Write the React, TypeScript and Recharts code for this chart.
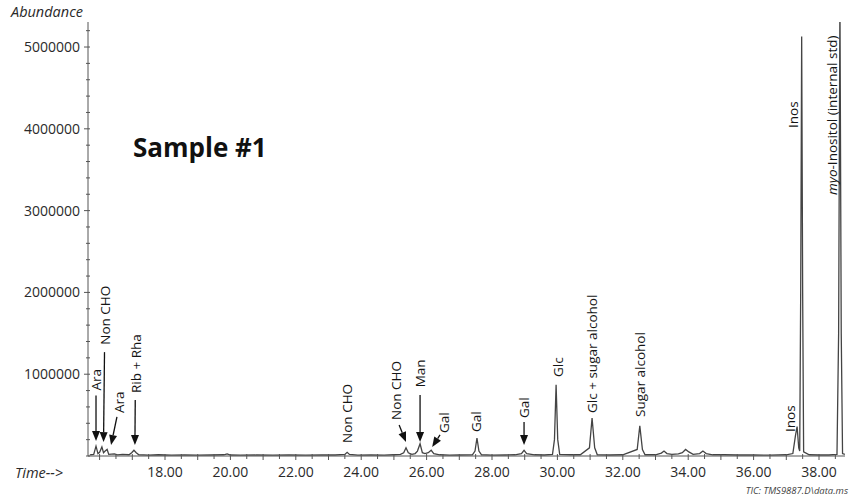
import React from 'react';
import { LineChart, Line, XAxis, YAxis, ReferenceLine, ReferenceDot } from 'recharts';

const FONT = '"Open Sans", "DejaVu Sans", sans-serif';
const INK = '#151515';
const AXIS = '#555';

// retention time, min
const times = [
  15.7, 15.82, 15.89, 15.95, 16.0, 16.07, 16.12, 16.17, 16.23, 16.28, 16.45, 16.55, 16.7, 16.9, 16.98,
  17.05, 17.12, 17.2, 17.5, 17.8, 18.2, 18.6, 19.0, 19.4, 19.8, 19.9, 20.0, 20.3, 20.8, 21.3, 21.8,
  22.3, 22.8, 23.2, 23.5, 23.57, 23.64, 23.9, 24.3, 24.7, 25.0, 25.2, 25.3, 25.37, 25.44, 25.55,
  25.65, 25.72, 25.8, 25.87, 25.95, 26.05, 26.14, 26.22, 26.4, 26.7, 27.0, 27.4, 27.48, 27.54, 27.6,
  27.68, 28.0, 28.4, 28.7, 28.9, 28.98, 29.06, 29.3, 29.6, 29.85, 29.91, 29.96, 30.01, 30.07, 30.4,
  30.7, 30.98, 31.06, 31.14, 31.22, 31.6, 32.0, 32.44, 32.52, 32.6, 32.68, 33.0, 33.18, 33.26, 33.35,
  33.5, 33.7, 33.82, 33.92, 34.02, 34.15, 34.35, 34.45, 34.55, 34.75, 35.1, 35.5, 36.0, 36.5, 37.0,
  37.2, 37.28, 37.33, 37.38, 37.41, 37.44, 37.47, 37.5, 37.53, 37.7, 38.0, 38.3, 38.55, 38.6, 38.64,
  38.68, 38.72, 38.79,
];

// abundance, thousands of counts
const abundanceK = [
  15, 20, 120, 30, 45, 110, 40, 60, 80, 20, 25, 15, 20, 15, 40,
  70, 40, 15, 10, 15, 10, 12, 10, 12, 15, 25, 12, 10, 12, 10, 12,
  10, 12, 12, 20, 45, 20, 10, 12, 10, 15, 20, 40, 100, 40, 20,
  30, 60, 150, 40, 30, 40, 70, 30, 15, 10, 12, 15, 60, 220, 60,
  15, 10, 12, 15, 30, 70, 30, 15, 12, 20, 200, 870, 200, 20, 15,
  15, 100, 465, 100, 15, 12, 15, 80, 370, 80, 15, 15, 35, 60, 30,
  20, 25, 40, 80, 50, 20, 30, 60, 30, 15, 15, 12, 12, 10, 15,
  30, 250, 360, 100, 60, 2000, 5130, 2000, 50, 15, 12, 12, 20, 1500, 5600,
  1500, 30, 20,
];

const chromData = times.map((t, i) => ({ t, a: abundanceK[i] * 1000 }));

const xTicks = [
  16, 16.5, 17, 17.5, 18, 18.5, 19, 19.5, 20, 20.5, 21, 21.5, 22, 22.5, 23, 23.5, 24, 24.5, 25, 25.5,
  26, 26.5, 27, 27.5, 28, 28.5, 29, 29.5, 30, 30.5, 31, 31.5, 32, 32.5, 33, 33.5, 34, 34.5, 35, 35.5,
  36, 36.5, 37, 37.5, 38, 38.5,
];
const xLabelTicks = [18, 20, 22, 24, 26, 28, 30, 32, 34, 36, 38];

const yTicks = [
  0, 200000, 400000, 600000, 800000, 1000000, 1200000, 1400000, 1600000, 1800000, 2000000,
  2200000, 2400000, 2600000, 2800000, 3000000, 3200000, 3400000, 3600000, 3800000, 4000000,
  4200000, 4400000, 4600000, 4800000, 5000000, 5200000,
];
const yLabelTicks = [1000000, 2000000, 3000000, 4000000, 5000000];

// peak labels: name, time of label, abundance at foot of label
const peakNames = [
  'Ara', 'Non CHO', 'Ara', 'Rib + Rha', 'Non CHO', 'Non CHO', 'Man', 'Gal', 'Gal', 'Gal', 'Glc',
  'Glc + sugar alcohol', 'Sugar alcohol', 'Inos', 'Inos', 'myo',
];
const labelTimes = [15.89, 16.16, 16.59, 17.11, 23.57, 25.06, 25.8, 26.53, 27.51, 28.98, 30.02, 31.06, 32.53, 37.1, 37.22, 38.41];
const labelFeet = [800000, 1360000, 526000, 770000, 160000, 440000, 840000, 281000, 293000, 465000, 966000, 526000, 477000, 293000, 4010000, 3190000];

// arrows: tail and tip
const arrowTailT = [15.89, 16.15, 16.53, 17.09, 25.16, 25.8, 26.41, 28.98];
const arrowTailA = [740000, 1270000, 477000, 685000, 379000, 746000, 257000, 416000];
const arrowTipT = [15.89, 16.12, 16.35, 17.08, 25.37, 25.8, 26.17, 28.98];
const arrowTipA = [183000, 170000, 134000, 134000, 171000, 171000, 110000, 134000];

const PeakLabel = ({ cx, cy, name }: any) => (
  <text
    x={cx}
    y={cy}
    transform={`rotate(-90 ${cx} ${cy})`}
    dominantBaseline="central"
    textAnchor="start"
    fontFamily={FONT}
    fontSize={13.5}
    fontWeight={500}
    fill={INK}
  >
    {name === 'myo' ? (
      <>
        <tspan fontStyle="italic">myo</tspan>-Inositol (internal std)
      </>
    ) : (
      name
    )}
  </text>
);

const Arrow = ({ x1, y1, x2, y2 }: any) => {
  const dx = x2 - x1;
  const dy = y2 - y1;
  const len = Math.sqrt(dx * dx + dy * dy) || 1;
  const ux = dx / len;
  const uy = dy / len;
  const hl = 10;
  const hw = 4;
  const bx = x2 - ux * hl;
  const by = y2 - uy * hl;
  return (
    <g>
      <line x1={x1} y1={y1} x2={bx} y2={by} stroke="#111" strokeWidth={1.3} />
      <polygon
        points={`${x2},${y2} ${bx - uy * hw},${by + ux * hw} ${bx + uy * hw},${by - ux * hw}`}
        fill="#111"
      />
    </g>
  );
};

const YTick = ({ x, y, payload }: any) => {
  const major = yLabelTicks.includes(payload.value);
  return (
    <g>
      <line x1={x - (major ? 4 : 2)} x2={x + 2} y1={y} y2={y} stroke={AXIS} />
      {major && (
        <text x={x - 8} y={y} dy="0.35em" textAnchor="end" fontFamily={FONT} fontSize={14} fill="#2a2a2a">
          {payload.value}
        </text>
      )}
    </g>
  );
};

const XTick = ({ x, y, payload }: any) => {
  const major = xLabelTicks.includes(payload.value);
  const whole = Number.isInteger(payload.value);
  return (
    <g>
      <line x1={x} x2={x} y1={y - 2} y2={y + (whole ? 4 : 3)} stroke={AXIS} />
      {major && (
        <text x={x} y={y + 21} textAnchor="middle" fontFamily={FONT} fontSize={14} fill="#2a2a2a">
          {payload.value.toFixed(2)}
        </text>
      )}
    </g>
  );
};

const App: React.FC = () => {
  return (
    <div style={{ position: 'absolute', left: 0, top: 0, width: 849, height: 496, background: '#fff' }}>
      <LineChart width={849} height={496} data={chromData} margin={{ top: 22, right: 4, bottom: 0, left: 0 }}>
        <XAxis
          dataKey="t"
          type="number"
          domain={[15.645, 38.795]}
          allowDataOverflow
          ticks={xTicks}
          interval={0}
          tick={<XTick />}
          tickLine={false}
          tickSize={0}
          tickMargin={0}
          height={40}
          stroke={AXIS}
        />
        <YAxis
          type="number"
          domain={[0, 5306000]}
          allowDataOverflow
          ticks={yTicks}
          interval={0}
          tick={<YTick />}
          tickLine={false}
          tickSize={0}
          tickMargin={0}
          width={88}
          stroke={AXIS}
        />
        <Line
          dataKey="a"
          type="linear"
          dot={false}
          stroke="#444"
          strokeWidth={1.3}
          isAnimationActive={false}
        />
        {arrowTailT.map((t, i) => (
          <ReferenceLine
            key={`arrow-${i}`}
            segment={[
              { x: t, y: arrowTailA[i] },
              { x: arrowTipT[i], y: arrowTipA[i] },
            ]}
            shape={(p: any) => <Arrow {...p} />}
          />
        ))}
        {peakNames.map((name, i) => (
          <ReferenceDot
            key={`label-${i}`}
            x={labelTimes[i]}
            y={labelFeet[i]}
            r={0}
            shape={(p: any) => <PeakLabel cx={p.cx} cy={p.cy} name={name} />}
          />
        ))}
      </LineChart>
      <svg
        width={849}
        height={496}
        style={{ position: 'absolute', left: 0, top: 0, pointerEvents: 'none' }}
      >
        <text x={11} y={17} fontFamily={FONT} fontStyle="italic" fontSize={14.5} fill="#2a2a2a">
          Abundance
        </text>
        <text x={15} y={478} fontFamily={FONT} fontStyle="italic" fontSize={14.5} fill="#2a2a2a">
          Time--&gt;
        </text>
        <text x={133} y={157} fontFamily={FONT} fontWeight="bold" fontSize={26} fill="#111">
          Sample #1
        </text>
        <text x={848} y={494} textAnchor="end" fontFamily={FONT} fontStyle="italic" fontSize={9.5} fill="#444">
          TIC: TMS9887.D\data.ms
        </text>
      </svg>
    </div>
  );
};

export default App;
